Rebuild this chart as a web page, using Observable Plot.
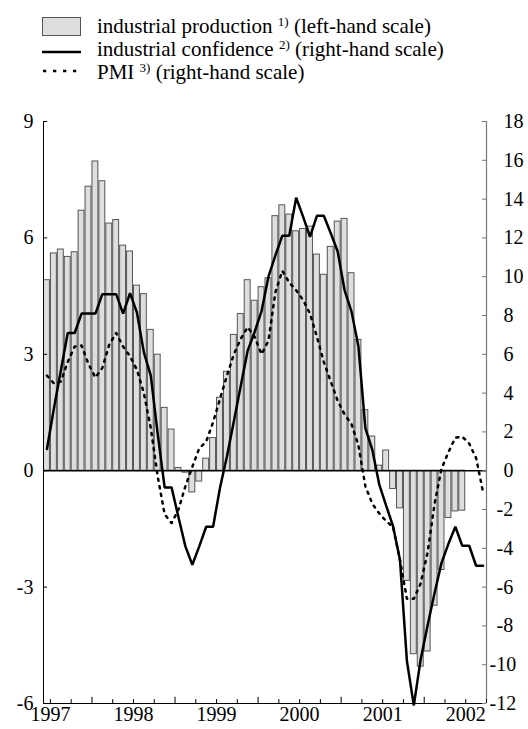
<!DOCTYPE html>
<html>
<head>
<meta charset="utf-8">
<script src="https://cdn.jsdelivr.net/npm/d3@7"></script>
<script src="https://cdn.jsdelivr.net/npm/@observablehq/plot@0.6"></script>
<style>
  html, body { margin: 0; padding: 0; background: #fff; }
  body { width: 528px; height: 729px; overflow: hidden; font-family: "Liberation Serif", "Tinos", "Times New Roman", "DejaVu Serif", serif; }
  #legend { position: relative; width: 528px; height: 95px; }
  #legend .t { position: absolute; left: 97px; font-size: 21px; line-height: 21px; white-space: nowrap; color: #000; }
  #legend sup { font-size: 13px; vertical-align: 0; position: relative; top: -7px; }
  #legend .box { position: absolute; left: 42px; top: 17px; width: 39px; height: 19px; box-sizing: border-box; background: #dedede; border: 1px solid #555; }
  #legend svg { position: absolute; left: 0; top: 0; }
  #chart svg { display: block; }
</style>
</head>
<body>
<div id="legend">
  <div class="box"></div>
  <svg width="100" height="95">
    <line x1="42" x2="81" y1="52" y2="52" stroke="#000" stroke-width="2.5"></line>
    <line x1="43" x2="81" y1="71" y2="71" stroke="#000" stroke-width="2.5" stroke-dasharray="3.3,6.7"></line>
  </svg>
  <div class="t" style="top:15.7px">industrial production <sup>1)</sup> (left-hand scale)</div>
  <div class="t" style="top:39.1px">industrial confidence <sup>2)</sup> (right-hand scale)</div>
  <div class="t" style="top:61.7px">PMI <sup>3)</sup> (right-hand scale)</div>
</div>
<div id="chart"></div>
<script>
// Month index 0 = June 1997
const startYear = 1997;
const startMonth = 6;
const monthCount = 64; // June 1997 .. September 2002

// industrial production (left-hand scale), June 1997 - June 2002
const production = [
  4.91, 5.60, 5.70, 5.51, 5.63, 6.70, 7.32, 7.97, 7.46, 6.37, 6.46, 5.80,
  5.65, 4.77, 4.55, 3.63, 2.99, 1.62, 1.06, 0.07, -0.05, -0.56, -0.28, 0.31,
  0.84, 1.88, 2.55, 3.50, 4.04, 4.91, 4.38, 4.73, 4.96, 6.56, 6.84, 6.60,
  6.17, 6.23, 6.29, 5.57, 5.05, 5.77, 6.42, 6.49, 5.09, 3.37, 1.56, 0.88,
  0.13, 0.52, -0.47, -0.97, -2.84, -4.73, -5.05, -4.66, -3.48, -2.56, -1.22, -1.05,
  -1.03
];

// industrial confidence (right-hand scale), June 1997 - September 2002
const confidence = [
  1.12, 3.2, 5.15, 7.1, 7.1, 8.1, 8.1, 8.1, 9.1, 9.1, 9.1, 8.1,
  9.15, 8.15, 6.1, 4.9, 1.9, -0.86, -0.86, -2.4, -3.9, -4.85, -3.9, -2.89,
  -2.89, -0.88, 0.73, 2.55, 4.38, 6.19, 7.15, 8.23, 10.0, 11.1, 12.11, 12.11,
  14.07, 13.1, 12.06, 13.14, 13.14, 12.24, 11.3, 9.3, 8.2, 6.4, 2.2, 1.08,
  -0.7, -1.8, -2.86, -4.6, -9.8, -12.1, -9.7, -7.95, -6.3, -4.75, -3.77, -2.89,
  -3.87, -3.87, -4.9, -4.9
];

// PMI (right-hand scale), June 1997 - September 2002
const pmi = [
  4.9, 4.5, 4.6, 5.6, 6.4, 6.45, 5.5, 4.8, 5.3, 6.5, 7.1, 6.4,
  5.9, 5.2, 4.0, 2.2, -0.3, -2.25, -2.7, -2.0, -0.8, 0.2, 1.15, 1.5,
  2.5, 3.7, 4.9, 6.0, 6.8, 7.4, 6.9, 6.0, 6.7, 9.2, 10.3, 9.7,
  9.3, 8.8, 8.1, 6.9, 5.6, 4.6, 3.6, 2.9, 2.4, 1.3, -0.8, -1.7,
  -2.2, -2.6, -2.9, -4.6, -6.6, -6.6, -5.8, -4.2, -1.7, 0.1, 0.95, 1.7,
  1.75, 1.4, 0.65, -1.1
];

const leftTicks = [-6, -3, 0, 3, 6, 9];
const rightTicks = [-12, -10, -8, -6, -4, -2, 0, 2, 4, 6, 8, 10, 12, 14, 16, 18];
const yearLabels = [1997, 1998, 1999, 2000, 2001, 2002];
const rightToLeft = 2; // right-hand scale is twice the left-hand scale

// helpers in month-index units
const monthIndex = (y, m) => (y - startYear) * 12 + (m - startMonth);
const quarterTicks = [];
for (let y = 1997; y <= 2002; y++) for (const m of [1, 4, 7, 10]) {
  const k = monthIndex(y, m);
  if (k >= 0 && k <= monthCount) quarterTicks.push({k, major: m === 1});
}
const yearPos = yearLabels.map(y => monthIndex(y, 7));

const bars = production.map((v, i) => ({i, v}));
const conf = confidence.map((v, i) => ({x: i + 0.5, y: v / rightToLeft}));
const pm = pmi.map((v, i) => ({x: i + 0.5, y: v / rightToLeft}));

const yMin = leftTicks[0], yMax = leftTicks[leftTicks.length - 1];
const font = "'Liberation Serif', Tinos, 'Times New Roman', 'DejaVu Serif', serif";

const chart = Plot.plot({
  width: 528,
  height: 634,
  marginTop: 26,
  marginBottom: 26,
  marginLeft: 43,
  marginRight: 42,
  style: {fontFamily: font, fontSize: "20px", background: "#fff", color: "#000"},
  x: {domain: [0, monthCount]},
  y: {domain: [yMin, yMax]},
  marks: [
    Plot.rectY(bars, {x1: d => d.i, x2: d => d.i + 1, y: "v", insetLeft: 0.5, insetRight: 0.5,
      fill: "#dedede", stroke: "#555", strokeWidth: 1}),
    Plot.ruleY([0], {x1: 0, x2: monthCount, stroke: "#000", strokeWidth: 1.5}),
    Plot.line(pm, {x: "x", y: "y", stroke: "#000", strokeWidth: 2.5, strokeDasharray: "2.2,5.5"}),
    Plot.line(conf, {x: "x", y: "y", stroke: "#000", strokeWidth: 2.5, strokeLinejoin: "miter"}),
    // axis lines
    Plot.ruleX([0], {y1: yMin, y2: yMax, stroke: "#000", strokeWidth: 1}),
    Plot.ruleX([monthCount], {y1: yMin, y2: yMax, stroke: "#777", strokeWidth: 1.2}),
    Plot.ruleY([yMin], {x1: 0, x2: monthCount, stroke: "#000", strokeWidth: 1.2}),
    // inward ticks
    Plot.ruleY(leftTicks, {x1: 0, x2: 0.6, stroke: "#000"}),
    Plot.ruleY(rightTicks.map(d => d / rightToLeft), {x1: monthCount - 0.6, x2: monthCount, stroke: "#777"}),
    Plot.ruleX(quarterTicks, {x: "k", y1: yMin, y2: d => yMin + (d.major ? 0.16 : 0.1), stroke: "#000"}),
    // labels
    Plot.axisY({anchor: "left", ticks: leftTicks, tickSize: 0, tickPadding: 10, fontSize: 20, tickFormat: d => String(d)}),
    Plot.axisY({anchor: "right", ticks: rightTicks.filter(d => d >= 0).map(d => d / rightToLeft), tickSize: 0, tickPadding: 17,
      fontSize: 20, textAnchor: "start", tickFormat: d => String(d * rightToLeft)}),
    Plot.axisY({anchor: "right", ticks: rightTicks.filter(d => d < 0 && d > -10).map(d => d / rightToLeft), tickSize: 0, tickPadding: 10,
      fontSize: 20, textAnchor: "start", tickFormat: d => String(d * rightToLeft)}),
    Plot.axisY({anchor: "right", ticks: rightTicks.filter(d => d <= -10).map(d => d / rightToLeft), tickSize: 0, tickPadding: 3,
      fontSize: 20, textAnchor: "start", tickFormat: d => String(d * rightToLeft)}),
    Plot.axisX({anchor: "bottom", ticks: yearPos, tickSize: 0, tickPadding: 3, fontSize: 20,
      tickFormat: d => String(yearLabels[yearPos.indexOf(d)])})
  ]
});
document.getElementById("chart").appendChild(chart);
</script>
</body>
</html>
